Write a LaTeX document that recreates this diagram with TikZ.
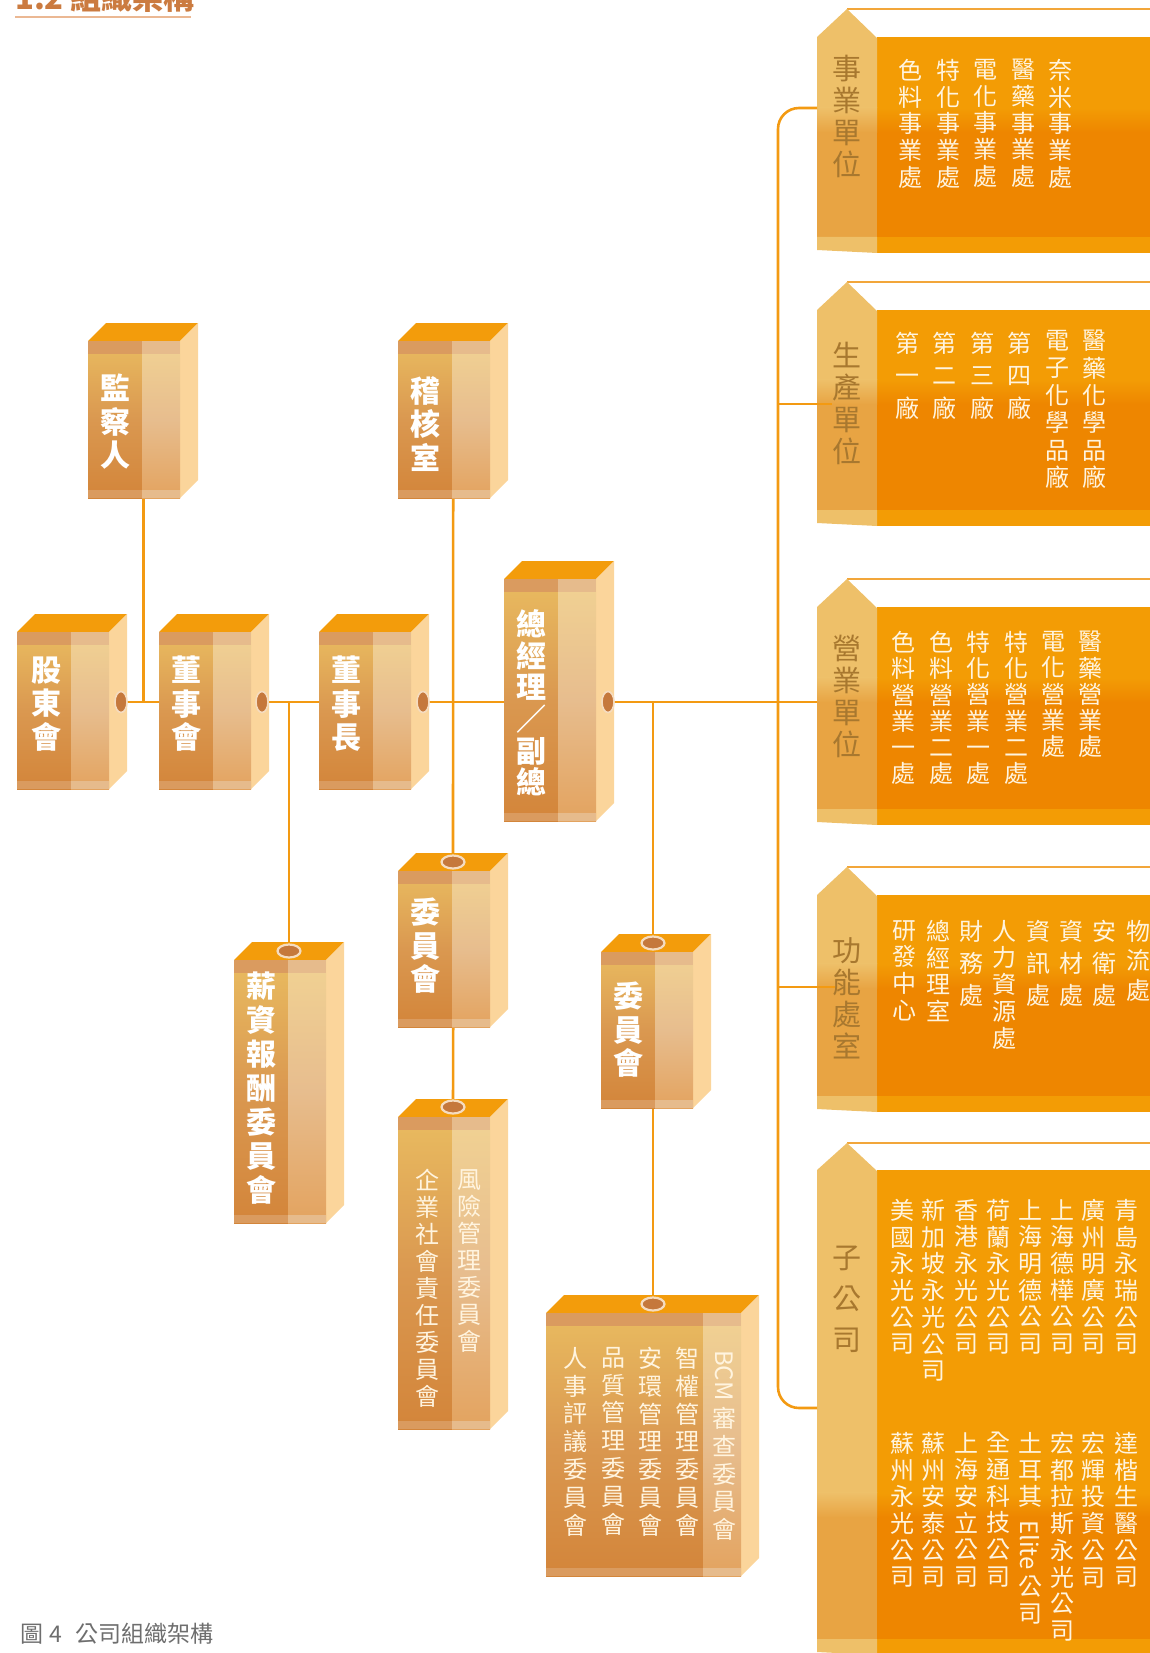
\documentclass[tikz,border=0pt]{standalone}
\usepackage{fontspec}
\setmainfont{Noto Sans CJK TC}
\usepackage{tikz}
\usetikzlibrary{shapes.geometric}

\definecolor{wire}{HTML}{F39A12}
\definecolor{lidc}{HTML}{F39C0B}
\definecolor{flankc}{HTML}{FBD59B}
\definecolor{frontLa}{HTML}{E9BB60}
\definecolor{frontLb}{HTML}{DA9850}
\definecolor{frontLc}{HTML}{D3853A}
\definecolor{frontRa}{HTML}{F1D293}
\definecolor{frontRb}{HTML}{E7BD8E}
\definecolor{frontRc}{HTML}{E3A35F}
\definecolor{bandL}{HTML}{DA9B5F}
\definecolor{bandR}{HTML}{E6BB8C}
\definecolor{dotfill}{HTML}{C5783C}
\definecolor{dotrim}{HTML}{F5DCC0}
\definecolor{panA}{HTML}{F39C05}
\definecolor{panB}{HTML}{EE8600}
\definecolor{tabA}{HTML}{EEC069}
\definecolor{tabB}{HTML}{E8A443}
\definecolor{tabink}{HTML}{A8782F}
\definecolor{listink}{HTML}{FFF4DF}
\definecolor{rimc}{HTML}{F2A63A}
\definecolor{titleink}{HTML}{CB7B40}
\definecolor{titlerule}{HTML}{EBB893}
\definecolor{capink}{HTML}{6E6E6E}

\pgfdeclarelayer{panel}
\pgfdeclarelayer{wirelayer}
\pgfsetlayers{panel,wirelayer,main}

\begin{document}
\begin{tikzpicture}[x=1pt,y=-1pt,line cap=round,
  link/.style={draw=wire,line width=2.6pt},
  sidedot/.style={ellipse,fill=dotfill,draw=dotrim,line width=1.6pt,minimum width=12pt,minimum height=21pt,inner sep=0pt},
  topdot/.style={ellipse,fill=dotfill,draw=dotrim,line width=2.2pt,minimum width=23pt,minimum height=13pt,inner sep=0pt},
  boxtxt/.style={text=white,align=center,inner sep=0pt,font={\fontsize{30}{33.5}\selectfont\bfseries}},
  tabtxt/.style={text=tabink,align=center,inner sep=0pt,font={\fontsize{29}{32}\selectfont}},
  listtxt/.style={text=listink,align=center,inner sep=0pt,anchor=north,font={\fontsize{24}{26.7}\selectfont}},
  widetxt/.style={listtxt,font={\fontsize{24}{32.3}\selectfont}}]
  \useasboundingbox (0,0) rectangle (1150,1653);

  % ---------------- title and caption ----------------
  \node[anchor=base west,text=titleink,inner sep=0pt,font={\fontsize{31}{31}\selectfont\bfseries}] (title) at (15,10) {1.2 組織架構};
  \draw[titlerule,line width=1.4pt,line cap=butt] (15,17) -- (191,17);
  \node[anchor=west,text=capink,inner sep=0pt,font={\fontsize{23}{23}\selectfont}] (cap) at (20,1634) {圖\hspace{6pt}4\hspace{14pt}公司組織架構};

  % ---------------- cuboids: name/x/top/width/height/split ----------------
  \foreach \nm/\xa/\ya/\w/\h/\s in {sup/88/341/92/157/54, aud/398/341/92/157/54,
      sh/17/632/92/157/54, bd/159/632/92/157/54, ch/319/632/92/157/54, gm/504/579/92/242/54,
      pay/234/960/92/263/54, cm1/398/871/92/156/54, risk/398/1117/92/312/54,
      cm2/601/952/92/156/54, big/546/1313/195/263/157}
    {\fill[lidc] (\xa,\ya) -- ++(18,-18) -- ++(\w,0) -- ++(-18,18) -- cycle;
     \fill[flankc] (\xa+\w,\ya) -- ++(18,-18) -- ++(0,\h) -- ++(-18,18) -- cycle;
     \shade[top color=frontLa,bottom color=frontLc,middle color=frontLb] (\xa,\ya) rectangle ++(\s,\h);
     \shade[top color=frontRa,bottom color=frontRc,middle color=frontRb] (\xa+\s,\ya) rectangle (\xa+\w,\ya+\h);
     \fill[bandL] (\xa,\ya) rectangle ++(\s,13);
     \fill[bandR] (\xa+\s,\ya) rectangle (\xa+\w,\ya+13);
     \fill[bandL] (\xa,\ya+\h-8) rectangle ++(\s,8);
     \fill[bandR] (\xa+\s,\ya+\h-8) rectangle (\xa+\w,\ya+\h);
     \node[inner sep=0pt,anchor=north west,minimum width={(\w+18)*1pt},minimum height={(\h+18)*1pt}] (\nm) at (\xa,\ya-18) {};}

  % joints on the side faces and on the lids
  \foreach \nm/\x in {sh/121, bd/262, ch/423, gm/608}
    \node[sidedot] (\nm-dot) at (\x,702) {};
  \foreach \nm/\x/\y in {pay/289/951, cm1/453/862, risk/453/1107, cm2/653/943, big/653/1304}
    \node[topdot] (\nm-dot) at (\x,\y) {};

  % box labels
  \node[boxtxt] (sup-t) at (115,422) {監\\察\\人};
  \node[boxtxt] (aud-t) at (425,424) {稽\\核\\室};
  \node[boxtxt] (sh-t) at (46,704) {股\\東\\會};
  \node[boxtxt] (bd-t) at (186,704) {董\\事\\會};
  \node[boxtxt] (ch-t) at (346,704) {董\\事\\長};
  \node[boxtxt,font={\fontsize{30}{31.6}\selectfont\bfseries}] (gm-t) at (531,703) {總\\經\\理\\／\\副\\總};
  \node[boxtxt,font={\fontsize{30}{34}\selectfont\bfseries}] (pay-t) at (261,1088) {薪\\資\\報\\酬\\委\\員\\會};
  \node[boxtxt] (cm1-t) at (425,946) {委\\員\\會};
  \node[boxtxt] (cm2-t) at (628,1030) {委\\員\\會};

  % committee lists
  \foreach \nm/\x/\txt in {r1/469/風\\險\\管\\理\\委\\員\\會, r2/427/企\\業\\社\\會\\責\\任\\委\\員\\會}
    \node[listtxt,font={\fontsize{24}{27}\selectfont}] (\nm) at (\x,1169) {\txt};
  \node[listtxt,font={\fontsize{24}{27.8}\selectfont}] (k1) at (724,1350) {\rotatebox{-90}{BCM\ }\\審\\查\\委\\員\\會};
  \foreach \nm/\x/\txt in {k2/687/智\\權\\管\\理\\委\\員\\會, k3/650/安\\環\\管\\理\\委\\員\\會,
      k4/613/品\\質\\管\\理\\委\\員\\會, k5/575/人\\事\\評\\議\\委\\員\\會}
    \node[listtxt,font={\fontsize{24}{27.8}\selectfont}] (\nm) at (\x,1347) {\txt};

  % ---------------- right panels: peak/shoulder/fade/bottom ----------------
  \begin{pgfonlayer}{panel}
  \foreach \pk/\sh/\tr/\bt in {9/37/120/237, 282/310/392/510, 579/607/690/809, 867/895/976/1096, 1143/1170/1505/1639}
    {\draw[rimc,line width=1.3pt,line cap=butt] (847,\pk) -- (1150,\pk);
     \fill[panA] (877,\sh) rectangle (1150,\tr-12);
     \shade[top color=panA,bottom color=panB] (877,\tr-12.5) rectangle (1150,\tr+12.5);
     \fill[panB] (877,\tr+12) rectangle (1150,\bt);
     \fill[panA] (877,\bt) rectangle (1150,\bt+16);
     \fill[tabA] (817,\sh) -- (847,\pk) -- (877,\sh+1) -- (877,\tr-12) -- (817,\tr-12) -- cycle;
     \shade[top color=tabA,bottom color=tabB] (817,\tr-12.5) rectangle (877,\tr+12.5);
     \fill[tabB] (817,\tr+12) rectangle (877,\bt);
     \fill[tabA] (817,\bt) -- (877,\bt) -- (877,\bt+16) -- (817,\bt+13) -- cycle;}
  \end{pgfonlayer}

  \node[tabtxt] (biz) at (847,116) {事\\業\\單\\位};
  \node[tabtxt] (pro) at (847,403) {生\\產\\單\\位};
  \node[tabtxt] (sales) at (847,696) {營\\業\\單\\位};
  \node[tabtxt] (fun) at (847,998) {功\\能\\處\\室};
  \node[tabtxt,font={\fontsize{29}{41}\selectfont}] (sub) at (847,1299) {子\\公\\司};

  % 事業單位
  \foreach \nm/\x/\txt in {b1/910/色\\料\\事\\業\\處, b2/948/特\\化\\事\\業\\處, b3/985/電\\化\\事\\業\\處,
      b4/1023/醫\\藥\\事\\業\\處, b5/1060/奈\\米\\事\\業\\處}
    \node[listtxt] (\nm) at (\x,59) {\txt};
  % 生產單位
  \foreach \nm/\x/\txt in {p1/907/第\\一\\廠, p2/944/第\\二\\廠, p3/982/第\\三\\廠, p4/1019/第\\四\\廠}
    \node[widetxt] (\nm) at (\x,332) {\txt};
  \foreach \nm/\x/\txt in {p5/1057/電\\子\\化\\學\\品\\廠, p6/1094/醫\\藥\\化\\學\\品\\廠}
    \node[listtxt,font={\fontsize{24}{27.4}\selectfont}] (\nm) at (\x,330) {\txt};
  % 營業單位
  \foreach \nm/\x/\txt in {s1/903/色\\料\\營\\業\\一\\處, s2/941/色\\料\\營\\業\\二\\處, s3/978/特\\化\\營\\業\\一\\處,
      s4/1016/特\\化\\營\\業\\二\\處, s5/1053/電\\化\\營\\業\\處, s6/1090/醫\\藥\\營\\業\\處}
    \node[listtxt,font={\fontsize{24}{26.3}\selectfont}] (\nm) at (\x,631) {\txt};
  % 功能處室
  \foreach \nm/\x/\txt in {f1/904/研\\發\\中\\心, f2/938/總\\經\\理\\室, f4/1004/人\\力\\資\\源\\處}
    \node[listtxt] (\nm) at (\x,920) {\txt};
  \foreach \nm/\x/\txt in {f3/971/財\\務\\處, f5/1038/資\\訊\\處, f6/1071/資\\材\\處, f7/1104/安\\衛\\處}
    \node[widetxt,font={\fontsize{24}{32}\selectfont}] (\nm) at (\x,920) {\txt};
  \node[listtxt,font={\fontsize{24}{29.5}\selectfont}] (f8) at (1138,920) {物\\流\\處};
  % 子公司
  \foreach \nm/\x/\txt in {u1/1126/青\\島\\永\\瑞\\公\\司, u2/1093/廣\\州\\明\\廣\\公\\司, u3/1062/上\\海\\德\\樺\\公\\司,
      u4/1030/上\\海\\明\\德\\公\\司, u5/998/荷\\蘭\\永\\光\\公\\司, u6/966/香\\港\\永\\光\\公\\司,
      u7/933/新\\加\\坡\\永\\光\\公\\司, u8/902/美\\國\\永\\光\\公\\司}
    \node[listtxt] (\nm) at (\x,1199) {\txt};
  \foreach \nm/\x/\txt in {v1/1126/達\\楷\\生\\醫\\公\\司, v2/1093/宏\\輝\\投\\資\\公\\司, v3/1062/宏\\都\\拉\\斯\\永\\光\\公\\司,
      v5/998/全\\通\\科\\技\\公\\司, v6/966/上\\海\\安\\立\\公\\司, v7/933/蘇\\州\\安\\泰\\公\\司, v8/902/蘇\\州\\永\\光\\公\\司}
    \node[listtxt] (\nm) at (\x,1432) {\txt};
  \node[listtxt] (v4) at (1030,1432) {土\\耳\\其\\[-12pt]\rotatebox{-90}{Elite\ }\\公\\司};

  % ---------------- connectors ----------------
  \coordinate (brx) at (778,0);
  \coordinate (biz-in) at (817,108);
  \coordinate (pro-in) at (832,404);
  \coordinate (sales-in) at (817,702);
  \coordinate (fun-in) at (835,987);
  \coordinate (sub-in) at (817,1408);
  \begin{pgfonlayer}{wirelayer}
  \draw[link] (sh-dot.center) -- (sales-in);
  \draw[link] (sup.south) -- (sup.south |- sh-dot.center);
  \draw[link] (aud.south) -- (cm1-dot.center);
  \draw[link] (cm1.south) -- (risk-dot.center);
  \draw[link] (bd-dot.center) -| (pay-dot.center);
  \draw[link] (gm-dot.center -| cm2-dot.center) -- (cm2-dot.center);
  \draw[link] (cm2-dot.center |- cm2.south) -- (big-dot.center);
  \draw[link,rounded corners=21pt] (biz-in) -- (biz-in -| brx) -- (sub-in -| brx) -- (sub-in);
  \draw[link] (pro-in -| brx) -- (pro-in);
  \draw[link] (fun-in -| brx) -- (fun-in);
  \end{pgfonlayer}
\end{tikzpicture}
\end{document}
